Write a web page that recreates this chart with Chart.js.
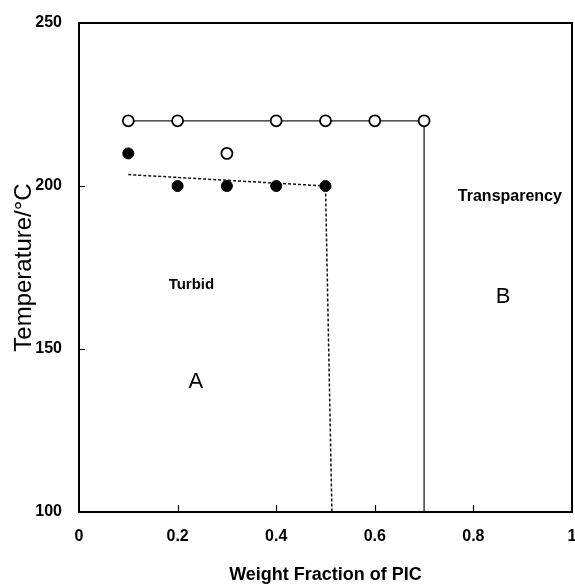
<!DOCTYPE html>
<html>
<head>
<meta charset="utf-8">
<script src="https://cdn.jsdelivr.net/npm/chart.js@4/dist/chart.umd.min.js"></script>
<style>
  body { margin: 0; background: #fff; }
  #wrap { width: 575px; height: 586px; }
</style>
</head>
<body>
<div id="wrap"><canvas id="chart"></canvas></div>
<script>
// open circles (transparent)
const openX = [0.1, 0.2, 0.4, 0.5, 0.6, 0.7, 0.3];
const openY = [220, 220, 220, 220, 220, 220, 210];
// filled circles (turbid)
const filledX = [0.1, 0.2, 0.3, 0.4, 0.5];
const filledY = [210, 200, 200, 200, 200];
// boundary lines
const solidX = [0.1, 0.7, 0.7];
const solidY = [220, 220, 100];
const dashX = [0.1, 0.5, 0.513];
const dashY = [203.5, 200, 100];

const xTicks = [0, 0.2, 0.4, 0.6, 0.8, 1];
const yTicks = [100, 150, 200, 250];

// text labels placed in data coords
const notes = [
  { text: 'Transparency', x: 0.874, y: 196.8, font: 'bold 16px "Liberation Sans", Arial' },
  { text: 'Turbid', x: 0.228, y: 169.6, font: 'bold 15px "Liberation Sans", Arial' },
  { text: 'A', x: 0.237, y: 140, font: '22px "Liberation Sans", Arial' },
  { text: 'B', x: 0.86, y: 166, font: '22px "Liberation Sans", Arial' },
];

const toPts = (xs, ys) => xs.map((x, i) => ({ x: x, y: ys[i] }));

const frame = {
  id: 'frame',
  afterDraw(chart) {
    const { ctx, chartArea: a, scales } = chart;
    ctx.save();
    ctx.strokeStyle = '#000';
    ctx.lineWidth = 2;
    ctx.strokeRect(a.left, a.top, a.right - a.left, a.bottom - a.top);
    ctx.lineWidth = 1.2;
    ctx.beginPath();
    xTicks.slice(1, -1).forEach(v => {
      const px = Math.round(scales.x.getPixelForValue(v)) + 0.5;
      ctx.moveTo(px, a.bottom);
      ctx.lineTo(px, a.bottom - 7);
    });
    yTicks.slice(1, -1).forEach(v => {
      const py = Math.round(scales.y.getPixelForValue(v)) + 0.5;
      ctx.moveTo(a.left, py);
      ctx.lineTo(a.left + 6, py);
    });
    ctx.stroke();
    ctx.fillStyle = '#000';
    ctx.textAlign = 'center';
    ctx.textBaseline = 'middle';
    notes.forEach(n => {
      ctx.font = n.font;
      ctx.fillText(n.text, scales.x.getPixelForValue(n.x), scales.y.getPixelForValue(n.y));
    });
    ctx.restore();
  }
};

new Chart(document.getElementById('chart'), {
  type: 'scatter',
  data: {
    datasets: [
      {
        data: toPts(openX, openY),
        pointRadius: 5.5,
        pointBackgroundColor: '#fff',
        pointBorderColor: '#000',
        pointBorderWidth: 1.8,
        showLine: false,
        order: 0
      },
      {
        data: toPts(filledX, filledY),
        pointRadius: 5.5,
        pointBackgroundColor: '#000',
        pointBorderColor: '#000',
        pointBorderWidth: 1,
        showLine: false,
        order: 0
      },
      {
        data: toPts(solidX, solidY),
        showLine: true,
        borderColor: '#222',
        borderWidth: 1.3,
        pointRadius: 0,
        order: 1
      },
      {
        data: toPts(dashX, dashY),
        showLine: true,
        borderColor: '#111',
        borderWidth: 1.5,
        borderDash: [3, 2],
        pointRadius: 0,
        order: 1
      }
    ]
  },
  options: {
    responsive: true,
    maintainAspectRatio: false,
    animation: false,
    layout: { autoPadding: false, padding: { top: 23, right: 3, left: 0, bottom: 0 } },
    plugins: { legend: { display: false }, tooltip: { enabled: false } },
    scales: {
      x: {
        type: 'linear',
        min: 0, max: 1,
        afterBuildTicks: s => { s.ticks = xTicks.map(v => ({ value: v })); },
        afterFit: s => { s.height = 74; s.paddingLeft = 0; s.paddingRight = 0; },
        grid: { display: false, drawTicks: false },
        border: { display: false },
        ticks: {
          color: '#000',
          padding: 15,
          maxRotation: 0,
          font: { family: '"Liberation Sans", Arial', size: 16, weight: 'bold' },
          callback: v => String(v)
        },
        title: {
          display: true,
          text: 'Weight Fraction of PIC',
          color: '#000',
          padding: 0,
          font: { family: '"Liberation Sans", Arial', size: 18, weight: 'bold' }
        }
      },
      y: {
        type: 'linear',
        min: 100, max: 250,
        afterBuildTicks: s => { s.ticks = yTicks.map(v => ({ value: v })); },
        afterFit: s => { s.width = 79; s.paddingTop = 0; s.paddingBottom = 0; },
        grid: { display: false, drawTicks: false },
        border: { display: false },
        ticks: {
          color: '#000',
          padding: 17,
          font: { family: '"Liberation Sans", Arial', size: 16, weight: 'bold' }
        },
        title: {
          display: true,
          text: 'Temperature/°C',
          color: '#000',
          padding: { top: 10, bottom: 0 },
          font: { family: '"Liberation Sans", Arial', size: 24 }
        }
      }
    }
  },
  plugins: [frame]
});
</script>
</body>
</html>
